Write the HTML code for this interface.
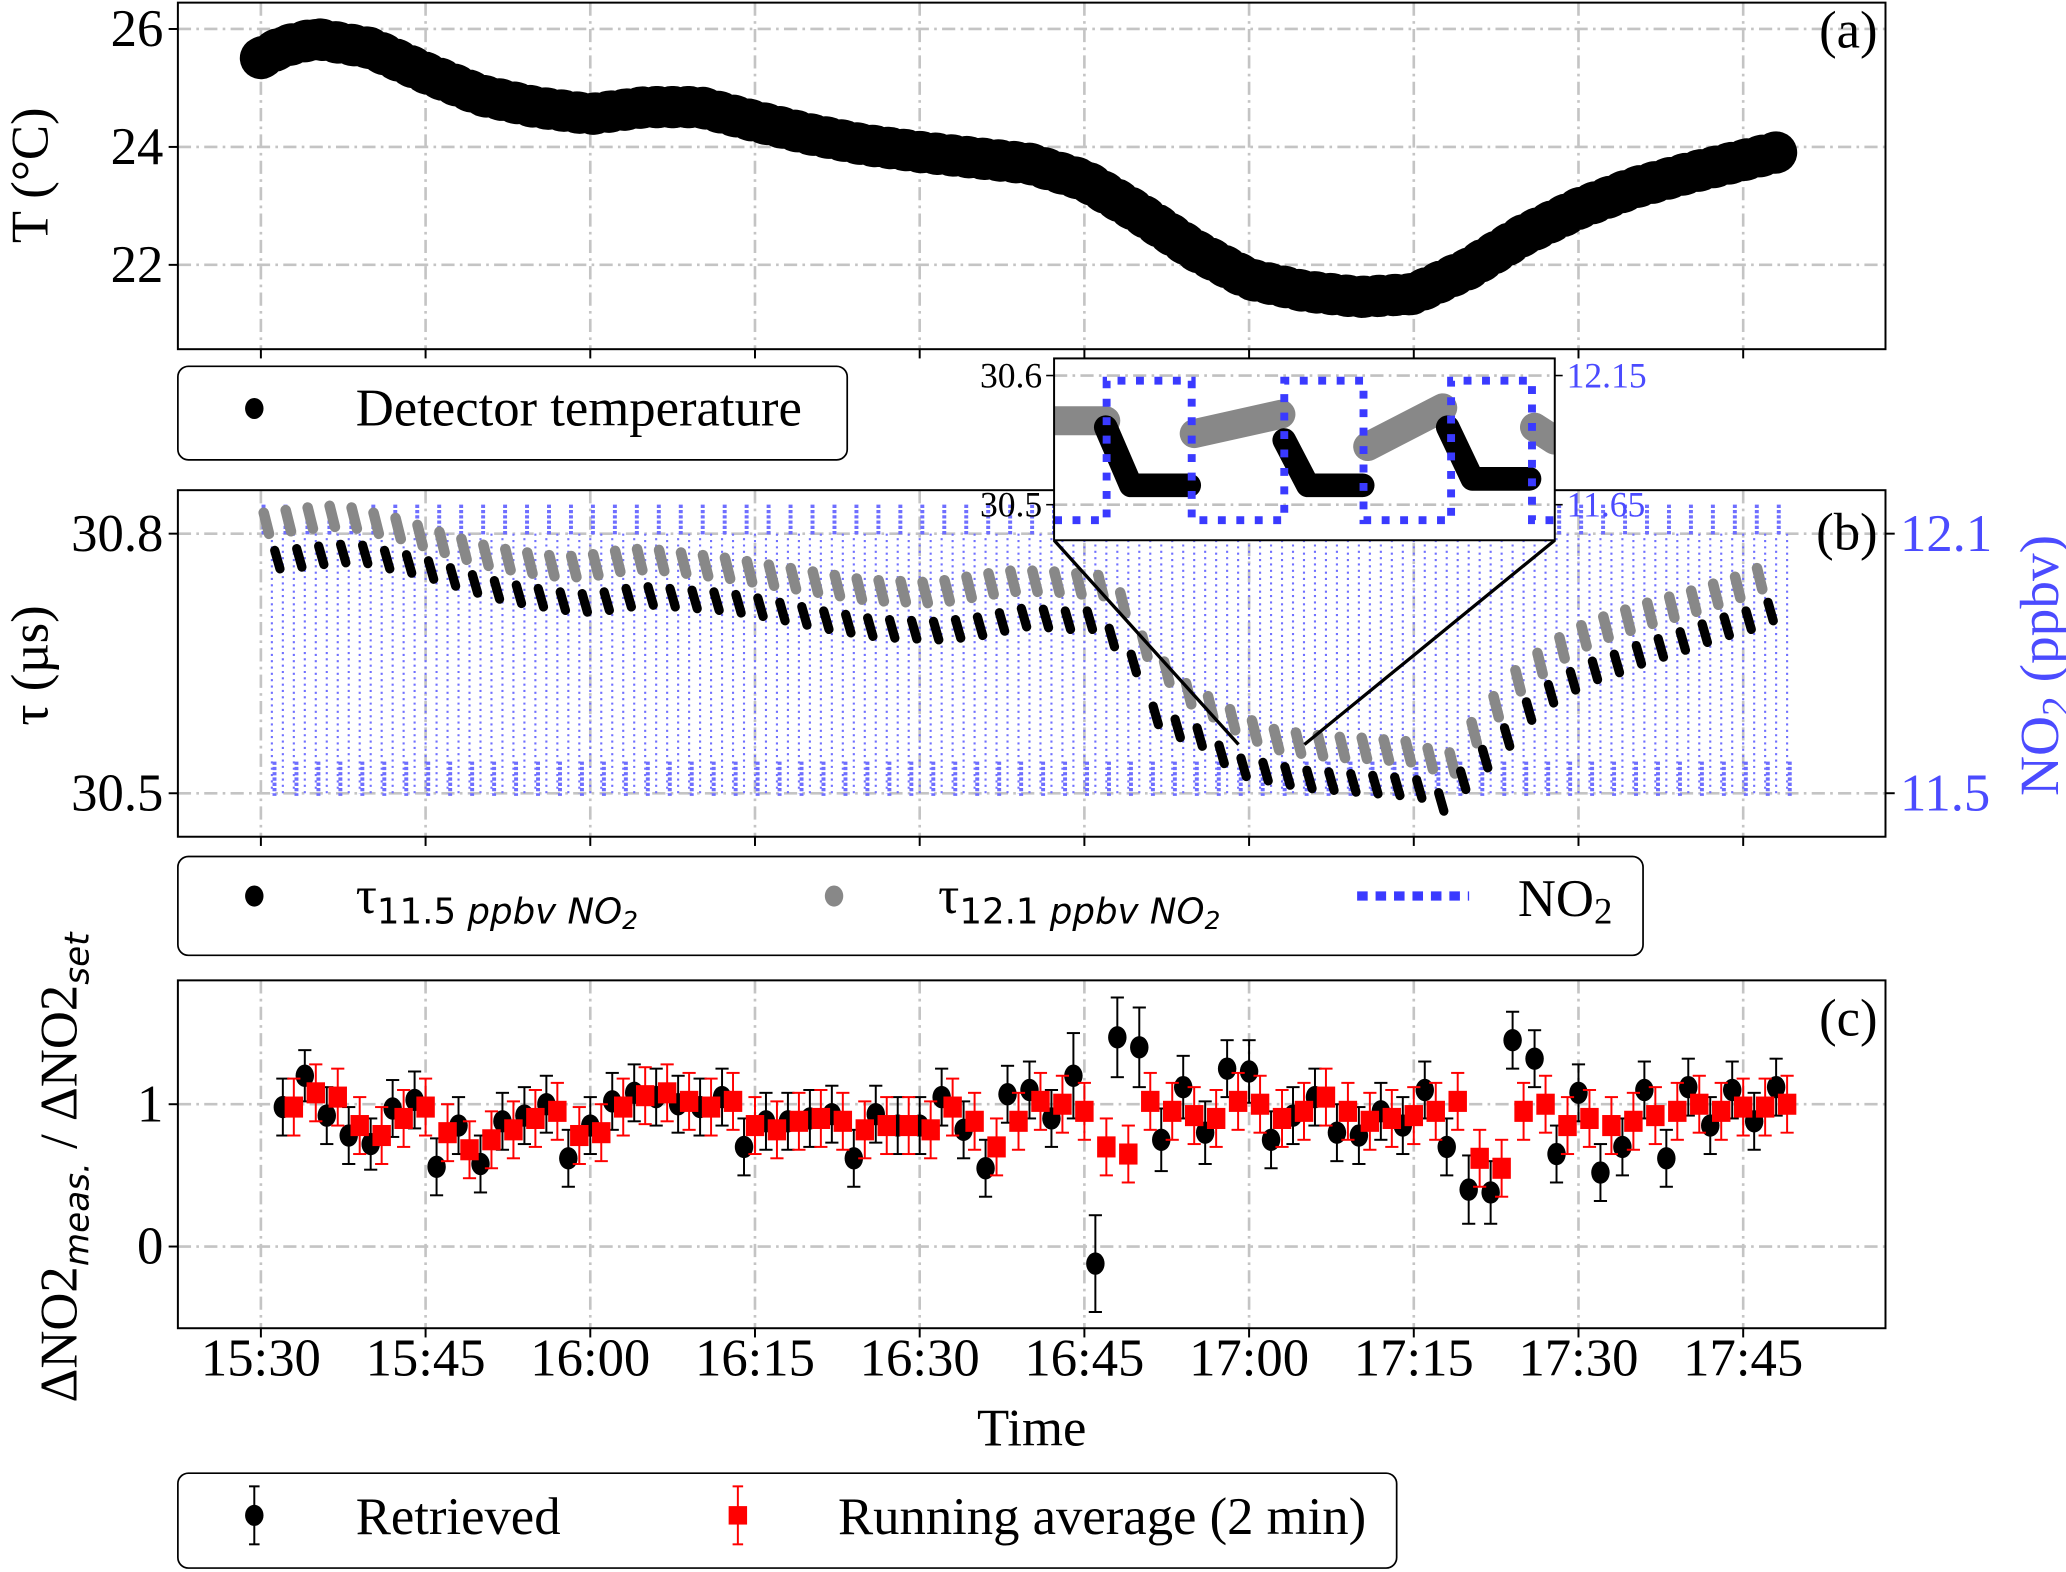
<!DOCTYPE html>
<html><head><meta charset="utf-8"><title>NO2 chart</title>
<style>
html,body{margin:0;padding:0;background:#fff;}
svg{display:block;}
text{font-family:"Liberation Serif",serif;}
</style></head>
<body>
<svg id="chart" xmlns="http://www.w3.org/2000/svg" width="2066" height="1572" viewBox="0 0 1568 1193" preserveAspectRatio="none">
<defs>
<clipPath id="clipA"><rect x="135" y="2" width="1296" height="263"/></clipPath>
<clipPath id="clipB"><rect x="135" y="372" width="1296" height="263"/></clipPath>
<clipPath id="clipC"><rect x="135" y="744" width="1296" height="264"/></clipPath>
<clipPath id="clipI"><rect x="800" y="272" width="380" height="138"/></clipPath>
</defs>
<rect x="0" y="0" width="1568" height="1193" fill="#fff"/>
<g id="gridA"></g>
<g id="gridB"></g>
<g id="gridC"></g>
<g id="marksA" clip-path="url(#clipA)"></g>
<g id="marksBn" clip-path="url(#clipB)"></g>
<g id="marksBt" clip-path="url(#clipB)"></g>
<g id="marksC" clip-path="url(#clipC)"></g>
<g id="axes">
<rect x="135" y="2" width="1296" height="263" fill="none" stroke="#000" stroke-width="1.5"/>
<rect x="135" y="372" width="1296" height="263" fill="none" stroke="#000" stroke-width="1.5"/>
<rect x="135" y="744" width="1296" height="264" fill="none" stroke="#000" stroke-width="1.5"/>
</g>
<g id="ticks"></g>
<text x="1425" y="36" font-size="40" text-anchor="end">(a)</text>
<text x="1425" y="417" font-size="40" text-anchor="end">(b)</text>
<text x="1425" y="786" font-size="40" text-anchor="end">(c)</text>
<text transform="translate(36,133) rotate(-90)" font-size="40" text-anchor="middle">T (°C)</text>
<text transform="translate(36,505) rotate(-90)" font-size="40" text-anchor="middle">τ (µs)</text>
<text transform="translate(1562,505) rotate(-90)" font-size="42" text-anchor="middle" fill="#4b4bff">NO<tspan font-size="30" dy="8">2</tspan><tspan dy="-8"> (ppbv)</tspan></text>
<text transform="translate(58,886) rotate(-90)" font-size="40" text-anchor="middle">ΔNO2<tspan font-family="DejaVu Sans" font-style="italic" font-size="26" dy="9">meas.</tspan><tspan dy="-9"> / ΔNO2</tspan><tspan font-family="DejaVu Sans" font-style="italic" font-size="26" dy="9">set</tspan></text>
<text x="783" y="1097" font-size="40" text-anchor="middle">Time</text>

<!-- Inset -->
<g id="inset">
<line x1="800" y1="410" x2="940" y2="565" stroke="#000" stroke-width="2.5"/>
<line x1="1180" y1="410" x2="990" y2="565" stroke="#000" stroke-width="2.5"/>
<rect x="800" y="272" width="380" height="138" fill="#fff"/>
<line x1="800" y1="285" x2="1180" y2="285" stroke="#c0c0c0" stroke-width="2" stroke-dasharray="10 4 2 4"/>
<line x1="800" y1="383" x2="1180" y2="383" stroke="#c0c0c0" stroke-width="2" stroke-dasharray="10 4 2 4"/>
<g id="insetMarks" clip-path="url(#clipI)"></g>
<rect x="800" y="272" width="380" height="138" fill="none" stroke="#000" stroke-width="1.5"/>
<line x1="794" y1="285" x2="800" y2="285" stroke="#000" stroke-width="1.2"/>
<line x1="794" y1="383" x2="800" y2="383" stroke="#000" stroke-width="1.2"/>
<line x1="1180" y1="285" x2="1186" y2="285" stroke="#000" stroke-width="1.2"/>
<line x1="1180" y1="383" x2="1186" y2="383" stroke="#000" stroke-width="1.2"/>
<text x="791" y="294" font-size="27" text-anchor="end">30.6</text>
<text x="791" y="392" font-size="27" text-anchor="end">30.5</text>
<text x="1189" y="294" font-size="27" fill="#4b4bff">12.15</text>
<text x="1189" y="392" font-size="27" fill="#4b4bff">11.65</text>
</g>

<!-- Legends -->
<g>
<rect x="135" y="278" width="508" height="71" rx="8" fill="#fff" stroke="#000" stroke-width="1.3"/>
<ellipse cx="193" cy="310" rx="7" ry="8" fill="#000"/>
<text x="270" y="323" font-size="40">Detector temperature</text>
</g>
<g>
<rect x="135" y="650" width="1112" height="75" rx="8" fill="#fff" stroke="#000" stroke-width="1.3"/>
<ellipse cx="193" cy="680" rx="7" ry="8" fill="#000"/>
<text x="270" y="693" font-size="40">τ<tspan font-family="DejaVu Sans" font-size="27" dy="8">11.5 </tspan><tspan font-family="DejaVu Sans" font-style="italic" font-size="27">ppbv NO</tspan><tspan font-family="DejaVu Sans" font-style="italic" font-size="19" dy="4">2</tspan></text>
<ellipse cx="633" cy="680" rx="7" ry="8" fill="#888"/>
<text x="712" y="693" font-size="40">τ<tspan font-family="DejaVu Sans" font-size="27" dy="8">12.1 </tspan><tspan font-family="DejaVu Sans" font-style="italic" font-size="27">ppbv NO</tspan><tspan font-family="DejaVu Sans" font-style="italic" font-size="19" dy="4">2</tspan></text>
<line x1="1030" y1="680" x2="1115" y2="680" stroke="#3a3aff" stroke-width="7" stroke-dasharray="8 6"/>
<text x="1152" y="695" font-size="40">NO<tspan font-size="28" dy="6">2</tspan></text>
</g>
<g>
<rect x="135" y="1118" width="925" height="72" rx="8" fill="#fff" stroke="#000" stroke-width="1.3"/>
<line x1="193" y1="1128" x2="193" y2="1172" stroke="#000" stroke-width="1.5"/>
<line x1="189" y1="1128" x2="197" y2="1128" stroke="#000" stroke-width="1.5"/>
<line x1="189" y1="1172" x2="197" y2="1172" stroke="#000" stroke-width="1.5"/>
<ellipse cx="193" cy="1150" rx="7" ry="8" fill="#000"/>
<text x="270" y="1164" font-size="40">Retrieved</text>
<line x1="560" y1="1128" x2="560" y2="1172" stroke="#f00" stroke-width="1.5"/>
<line x1="556" y1="1128" x2="564" y2="1128" stroke="#f00" stroke-width="1.5"/>
<line x1="556" y1="1172" x2="564" y2="1172" stroke="#f00" stroke-width="1.5"/>
<rect x="553" y="1143" width="14" height="14" fill="#f00"/>
<text x="636" y="1164" font-size="40">Running average (2 min)</text>
</g>
</svg>
<script>
// ---- axis tick data ----
const xTickMin = [0,15,30,45,60,75,90,105,120,135];
const xTickLabels = ['15:30','15:45','16:00','16:15','16:30','16:45','17:00','17:15','17:30','17:45'];
const aTicks = [26,24,22];
const bTicks = [30.8,30.5];
const bRightTicks = [12.1,11.5];
const cTicks = [1,0];

// ---- panel (a) temperature (minutes after 15:30) ----
const tempT = [0,2,5,10,15,20,25,30,35,40,45,50,55,60,65,70,75,80,85,90,95,100,105,110,115,120,125,130,135,138];
const tempV = [25.55,25.75,25.88,25.72,25.3,24.92,24.72,24.6,24.72,24.72,24.48,24.26,24.08,23.96,23.86,23.76,23.48,22.92,22.3,21.8,21.6,21.5,21.55,21.98,22.55,23.0,23.35,23.6,23.82,23.95];

// ---- panel (b) tau (µs); gray at 12.1 ppbv (t=0.5+2k), black at 11.5 ppbv (t=1.5+2k) ----
const tauLow = [30.770,30.772,30.775,30.777,30.776,30.770,30.765,30.758,30.750,30.742,
30.735,30.730,30.726,30.722,30.720,30.722,30.726,30.728,30.726,30.724,
30.722,30.719,30.715,30.710,30.705,30.700,30.696,30.692,30.690,30.689,
30.688,30.690,30.693,30.698,30.703,30.702,30.700,30.700,30.680,30.650,
30.590,30.575,30.565,30.545,30.530,30.525,30.520,30.516,30.514,30.512,
30.510,30.508,30.505,30.490,30.515,30.540,30.565,30.595,30.615,30.630,
30.642,30.650,30.660,30.668,30.676,30.685,30.693,30.700,30.710];
const tauHigh = [30.812,30.815,30.818,30.820,30.818,30.812,30.806,30.798,30.790,30.782,
30.775,30.770,30.766,30.763,30.762,30.764,30.768,30.770,30.769,30.766,
30.763,30.760,30.756,30.752,30.748,30.744,30.740,30.736,30.734,30.733,
30.732,30.734,30.738,30.742,30.745,30.745,30.744,30.742,30.740,30.720,
30.670,30.640,30.615,30.600,30.585,30.572,30.562,30.558,30.555,30.553,
30.552,30.550,30.548,30.540,30.535,30.570,30.600,30.630,30.650,30.668,
30.682,30.692,30.700,30.708,30.715,30.722,30.730,30.738,30.748];
// NO2 setpoint per minute (ppbv)
const no2Level = [12.1,11.5,12.1,11.5,12.1,11.5,12.1,11.5,12.1,11.5,12.1,11.5,12.1,11.5,12.1,11.5,12.1,11.5,12.1,11.5,
12.1,11.5,12.1,11.5,12.1,11.5,12.1,11.5,12.1,11.5,12.1,11.5,12.1,11.5,12.1,11.5,12.1,11.5,12.1,11.5,
12.1,11.5,12.1,11.5,12.1,11.5,12.1,11.5,12.1,11.5,12.1,11.5,12.1,11.5,12.1,11.5,12.1,11.5,12.1,11.5,
12.1,11.5,12.1,11.5,12.1,11.5,12.1,11.5,12.1,11.5,12.1,11.5,12.1,11.5,12.1,11.5,12.1,11.5,12.1,11.5,
12.1,11.5,12.1,11.5,12.1,11.5,12.1,11.5,12.1,11.5,12.1,11.5,12.1,11.5,12.1,11.5,12.1,11.5,12.1,11.5,
12.1,11.5,12.1,11.5,12.1,11.5,12.1,11.5,12.1,11.5,12.1,11.5,12.1,11.5,12.1,11.5,12.1,11.5,12.1,11.5,
12.1,11.5,12.1,11.5,12.1,11.5,12.1,11.5,12.1,11.5,12.1,11.5,12.1,11.5,12.1,11.5,12.1,11.5,12.1,11.5];

// ---- inset (minutes within zoom window) ----
const insetNo2T = [0,0.63,1.65,2.76,3.71,4.76,5.73,6];
const insetNo2V = [11.59,12.13,11.59,12.13,11.59,12.13,11.59];
const insetGrayStart = [0,1.68,3.76,5.76];
const insetGrayEnd = [0.62,2.72,4.66,6];
const insetGrayV0 = [30.565,30.555,30.545,30.56];
const insetGrayV1 = [30.565,30.57,30.575,30.55];
const insetBlackStart = [0.62,2.76,4.72];
const insetBlackEnd = [1.62,3.7,5.7];
const insetBlackV0 = [30.56,30.55,30.56];
const insetBlackV1 = [30.515,30.515,30.52];

// ---- panel (c) ratio ----
const retrieved = [0.98,1.20,0.92,0.78,0.72,0.97,1.03,0.56,0.85,0.58,
0.88,0.92,1.00,0.62,0.85,1.02,1.08,1.05,1.00,0.98,
1.05,0.70,0.88,0.88,0.90,0.93,0.62,0.93,0.85,0.85,
1.05,0.82,0.55,1.07,1.10,0.90,1.20,-0.12,1.47,1.40,
0.75,1.12,0.80,1.25,1.23,0.75,0.92,1.05,0.80,0.78,
0.95,0.85,1.10,0.70,0.40,0.38,1.45,1.32,0.65,1.08,
0.52,0.70,1.10,0.62,1.12,0.85,1.10,0.88,1.12];
const retrievedErr = [0.2,0.18,0.2,0.2,0.18,0.2,0.2,0.2,0.2,0.2,
0.2,0.2,0.2,0.2,0.2,0.2,0.2,0.2,0.2,0.2,
0.2,0.2,0.2,0.2,0.2,0.2,0.2,0.2,0.2,0.2,
0.2,0.2,0.2,0.2,0.2,0.2,0.3,0.34,0.28,0.28,
0.22,0.22,0.22,0.2,0.22,0.2,0.2,0.2,0.2,0.2,
0.2,0.2,0.2,0.2,0.24,0.22,0.2,0.2,0.2,0.2,
0.2,0.2,0.2,0.2,0.2,0.2,0.2,0.2,0.2];
const runAvg = [0.98,1.08,1.05,0.85,0.78,0.90,0.98,0.80,0.68,0.75,
0.82,0.90,0.95,0.78,0.80,0.98,1.06,1.08,1.02,0.98,
1.02,0.85,0.82,0.88,0.90,0.88,0.82,0.85,0.85,0.82,
0.98,0.88,0.70,0.88,1.02,1.00,0.95,0.70,0.65,1.02,
0.95,0.92,0.90,1.02,1.00,0.90,0.95,1.05,0.95,0.88,
0.90,0.92,0.95,1.02,0.62,0.55,0.95,1.00,0.85,0.90,
0.85,0.88,0.92,0.95,1.00,0.95,0.98,0.98,1.00];
const runAvgErr = 0.2;

// ---- axis functions ----
const xT = t => 198 + t * (1125/135);
const yA = v => 22 + (26 - v) * 44.75;
const yB = v => 405 + (30.8 - v) * 656.7;
const yN = v => 405 + (12.1 - v) * 328.3;
const yC = v => 946 - v * 108;
const xI = t => 800 + t * 63.3;
const yIT = v => 285 + (30.6 - v) * 980;
const yIN = v => 285 + (12.15 - v) * 196;

const NS = 'http://www.w3.org/2000/svg';
function mk(tag, attrs, parent) {
  const e = document.createElementNS(NS, tag);
  for (const k in attrs) e.setAttribute(k, attrs[k]);
  parent.appendChild(e);
  return e;
}
const G = id => document.getElementById(id);
const gridStyle = {stroke:'#c4c4c4','stroke-width':2,'stroke-dasharray':'10 4 2 4'};

// grids & ticks
const panels = [
  {g:'gridA', top:2, bot:265, ticks:aTicks, y:yA, fmt:v=>String(v)},
  {g:'gridB', top:372, bot:635, ticks:bTicks, y:yB, fmt:v=>v.toFixed(1)},
  {g:'gridC', top:744, bot:1008, ticks:cTicks, y:yC, fmt:v=>String(v)}
];
const tk = G('ticks');
panels.forEach(p => {
  const g = G(p.g);
  xTickMin.forEach(m => {
    const l = mk('line', Object.assign({x1:xT(m), x2:xT(m), y1:p.top, y2:p.bot}, gridStyle), g);
    
    
    const t = mk('line', {x1:xT(m), x2:xT(m), y1:p.bot, y2:p.bot+7, stroke:'#000','stroke-width':1.5}, tk);
    
    
  });
  p.ticks.forEach(v => {
    const l = mk('line', Object.assign({x1:135, x2:1431, y1:p.y(v), y2:p.y(v)}, gridStyle), g);
    
    
    const t = mk('line', {x1:128, x2:135, y1:p.y(v), y2:p.y(v), stroke:'#000','stroke-width':1.5}, tk);
    
    
    const lb = mk('text', {x:124, y:p.y(v)+13, 'font-size':40, 'text-anchor':'end'}, tk);
    lb.textContent = p.fmt(v);
    
    
  });
});
bRightTicks.forEach(v => {
  const t = mk('line', {x1:1431, x2:1438, y1:yN(v), y2:yN(v), stroke:'#000','stroke-width':1.5}, tk);
  
  
  const lb = mk('text', {x:1442, y:yN(v)+13, 'font-size':40, fill:'#4b4bff'}, tk);
  lb.textContent = v.toFixed(1);
  
  
});
xTickMin.forEach((m, i) => {
  const lb = mk('text', {x:xT(m), y:1044, 'font-size':40, 'text-anchor':'middle'}, tk);
  lb.textContent = xTickLabels[i];
  
  
});

// panel a
{
  const g = G('marksA');
  const d = tempT.map((t,i) => (i?'L':'M') + xT(t).toFixed(1) + ' ' + yA(tempV[i]).toFixed(1)).join(' ');
  const band = mk('path', {d:d, fill:'none', stroke:'#000', 'stroke-width':26, 'stroke-linejoin':'round', 'stroke-linecap':'round'}, g);
  
  
  const edge = mk('path', {d:d, fill:'none', stroke:'#000', 'stroke-width':32, 'stroke-dasharray':'2 10', 'stroke-linejoin':'round', 'stroke-linecap':'round', transform:'translate(0,2)'}, g);
  
  
}

// panel b: NO2
{
  const g = G('marksBn');
  no2Level.forEach((v, i) => {
    const x = xT(i);
    if (i > 0 && no2Level[i-1] !== v) {
      const l = mk('line', {x1:x, x2:x, y1:yN(no2Level[i-1]), y2:yN(v), stroke:'#7070ff', 'stroke-width':1.6, 'stroke-dasharray':'1.6 3.2'}, g);
      
      
    }
    const hi = v > 11.8;
    const y0 = yN(v);
    const b = mk('line', {x1:x+2, x2:x+2, y1: hi ? y0 - 22 : y0 - 24, y2: y0 + 2, stroke:'#6e6eff', 'stroke-width':3, 'stroke-dasharray':'2.5 1.5'}, g);
    
    
  });
}
// panel b: tau
{
  const g = G('marksBt');
  tauHigh.forEach((v, k) => {
    const x = xT(0.5 + 2*k), y = yB(v);
    const c = mk('line', {x1:x-2, y1:y-8, x2:x+2, y2:y+8, stroke:'#888', 'stroke-width':8, 'stroke-linecap':'round'}, g);
    
    
  });
  tauLow.forEach((v, k) => {
    const x = xT(1.5 + 2*k), y = yB(v);
    const c = mk('line', {x1:x-2, y1:y-7, x2:x+2, y2:y+7, stroke:'#000', 'stroke-width':7, 'stroke-linecap':'round'}, g);
    
    
  });
}
// inset
{
  const g = G('insetMarks');
  insetGrayStart.forEach((s, i) => {
    const l = mk('line', {x1:xI(s), y1:yIT(insetGrayV0[i]), x2:xI(insetGrayEnd[i]), y2:yIT(insetGrayV1[i]), stroke:'#888', 'stroke-width':22, 'stroke-linecap':'round'}, g);
    
    
  });
  insetBlackStart.forEach((s, i) => {
    const xa = xI(s), xb = xI(insetBlackEnd[i]);
    const p = mk('path', {d:'M'+xa+' '+yIT(insetBlackV0[i])+' L'+(xa+(xb-xa)*0.3)+' '+yIT(insetBlackV1[i])+' L'+xb+' '+yIT(insetBlackV1[i]), fill:'none', stroke:'#000', 'stroke-width':18, 'stroke-linecap':'round','stroke-linejoin':'round'}, g);
    
    
  });
  let d = '';
  insetNo2V.forEach((v, i) => {
    const xa = xI(insetNo2T[i]), xb = xI(insetNo2T[i+1]), y = yIN(v);
    d += (i ? ' L' : 'M') + xa + ' ' + y + ' L' + xb + ' ' + y;
  });
  const p = mk('path', {d:d, fill:'none', stroke:'#3a3aff', 'stroke-width':6, 'stroke-dasharray':'6 8'}, g);
  
  
}

// panel c
function errbar(g, x, v, e, col, name) {
  const a = mk('line', {x1:x, x2:x, y1:yC(v+e), y2:yC(v-e), stroke:col, 'stroke-width':1.5}, g);
  
  
  [v+e, v-e].forEach(w => {
    const c = mk('line', {x1:x-5, x2:x+5, y1:yC(w), y2:yC(w), stroke:col, 'stroke-width':1.5}, g);
    
    
  });
}
{
  const g = G('marksC');
  retrieved.forEach((v, i) => {
    const x = xT(2 + 2*i);
    errbar(g, x, v, retrievedErr[i], '#000', 'retrieved-errorbar');
  });
  retrieved.forEach((v, i) => {
    const c = mk('ellipse', {cx:xT(2 + 2*i), cy:yC(v), rx:7, ry:8.5, fill:'#000'}, g);
    
    
  });
  runAvg.forEach((v, i) => {
    errbar(g, xT(3 + 2*i), v, runAvgErr, '#f00', 'average-errorbar');
  });
  runAvg.forEach((v, i) => {
    const r = mk('rect', {x:xT(3 + 2*i)-7, y:yC(v)-8, width:14, height:16, fill:'#f00'}, g);
    
    
  });
}
</script>
</body></html>
